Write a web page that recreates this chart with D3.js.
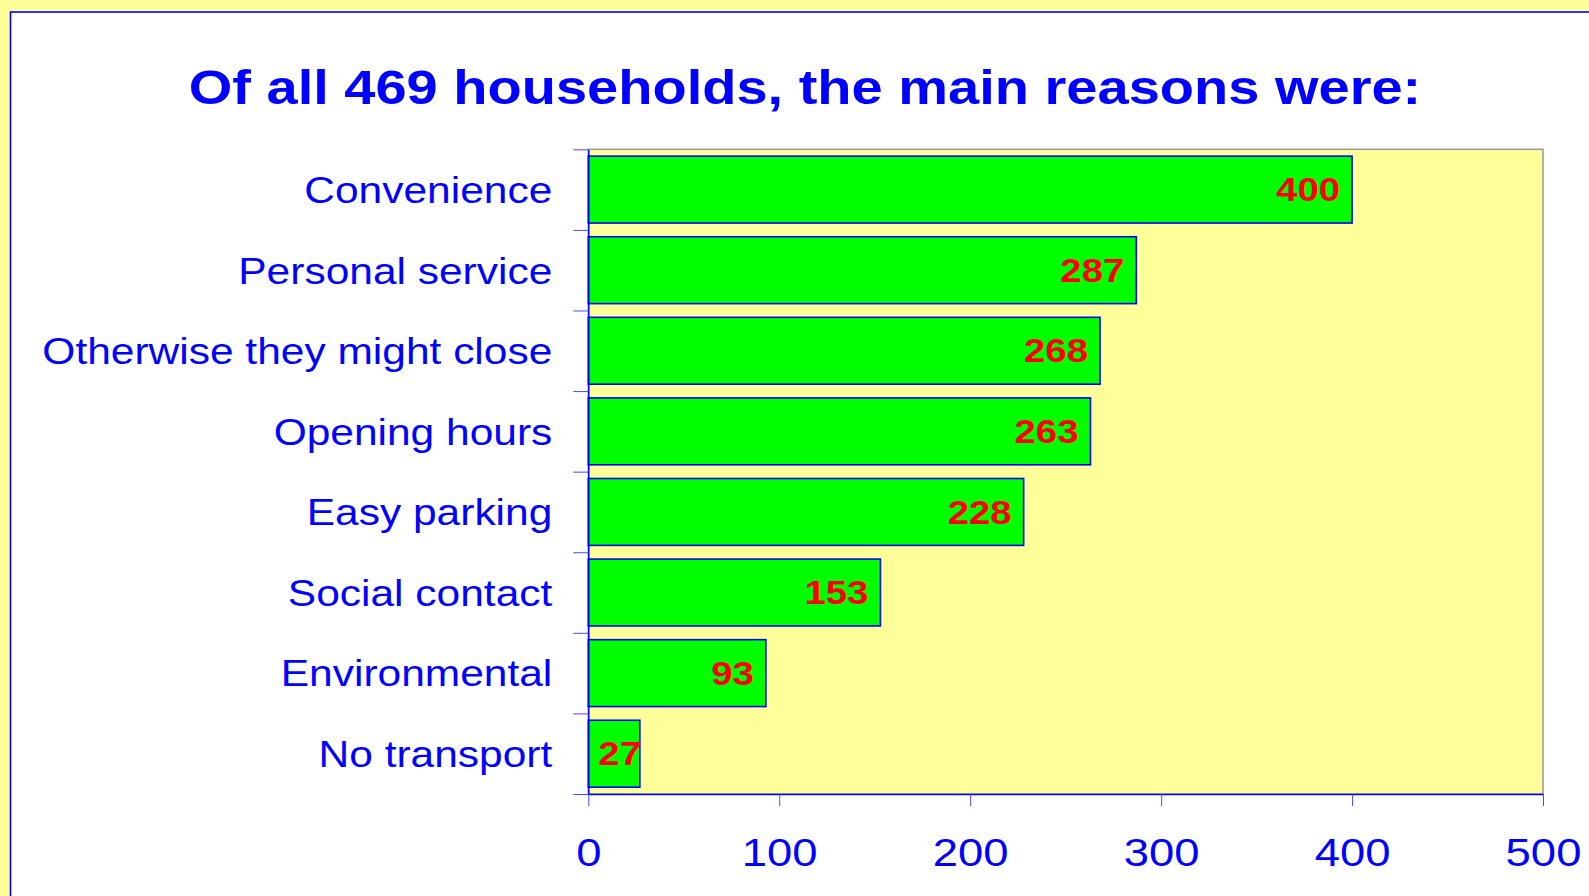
<!DOCTYPE html>
<html>
<head>
<meta charset="utf-8">
<script src="https://cdn.jsdelivr.net/npm/d3@7"></script>
<style>
  body { margin: 0; background: #ffff99; }
  svg { display: block; }
  text { font-family: Arial, "Liberation Sans", sans-serif; }
</style>
</head>
<body>
<div id="chart"></div>
<script>
// data
var reasons = ["Convenience", "Personal service", "Otherwise they might close", "Opening hours",
               "Easy parking", "Social contact", "Environmental", "No transport"];
var counts = [400, 287, 268, 263, 228, 153, 93, 27];
var xTicks = [0, 100, 200, 300, 400, 500];
var title = "Of all 469 households, the main reasons were:";

var W = 1589, H = 896;
var margin = {top: 149.3, right: 46, bottom: 102, left: 588.3};
var width = W - margin.left - margin.right,
    height = H - margin.top - margin.bottom;
var SX = 1.18; // text in the original is stretched sideways

// stretch a text element horizontally keeping its anchor
function stretch(sel, k) {
  sel.each(function() {
    var len = this.getComputedTextLength();
    d3.select(this).attr("textLength", len * k).attr("lengthAdjust", "spacingAndGlyphs");
  });
}

var svg = d3.select("#chart").append("svg")
    .attr("width", W)
    .attr("height", H);

// white slide panel
svg.append("rect")
  .attr("x", 10.5).attr("y", 12)
  .attr("width", W).attr("height", H)
  .attr("fill", "#ffffff")
  .attr("stroke", "#0000ff")
  .attr("stroke-width", 1.6);

svg.append("text")
  .attr("x", 805)
  .attr("y", 103.5)
  .attr("text-anchor", "middle")
  .attr("font-size", 49)
  .attr("font-weight", "bold")
  .attr("fill", "#0000ff")
  .text(title)
  .call(stretch, 1.143);

var g = svg.append("g")
  .attr("transform", "translate(" + margin.left + "," + margin.top + ")");

var x = d3.scaleLinear().domain([0, 500]).range([0, width]);
var y = d3.scaleBand().domain(reasons).range([0, height])
  .paddingInner(0.17).paddingOuter(0.085);
var yEdge = d3.scaleLinear().domain([0, reasons.length]).range([0, height]);

// plot area
g.append("rect")
  .attr("width", width).attr("height", height)
  .attr("fill", "#ffff99")
  .attr("stroke", "#999999")
  .attr("stroke-width", 1.5);

// bars
g.selectAll(".bar")
  .data(counts)
  .enter().append("rect")
  .attr("class", "bar")
  .attr("x", x(0))
  .attr("y", function(d, i) { return y(reasons[i]); })
  .attr("width", function(d) { return x(d) - x(0); })
  .attr("height", y.bandwidth())
  .attr("fill", "#00ff00")
  .attr("stroke", "#0000ff")
  .attr("stroke-width", 1.6);

// value labels, inside the bar end, pushed right for short bars
g.selectAll(".val")
  .data(counts)
  .enter().append("text")
  .attr("class", "val")
  .attr("y", function(d, i) { return y(reasons[i]) + y.bandwidth() / 2; })
  .attr("dy", "0.36em")
  .attr("text-anchor", "end")
  .attr("font-size", 32.5)
  .attr("font-weight", "bold")
  .attr("fill", "#ff0000")
  .text(function(d) { return d; })
  .call(stretch, SX)
  .attr("x", function(d) {
    var w = this.getComputedTextLength();
    return Math.max(x(d) - 12, x(0) + 10 + w);
  });

// x axis
var xAxis = g.append("g")
  .attr("transform", "translate(0," + height + ")")
  .call(d3.axisBottom(x).tickValues(xTicks).tickSize(12).tickSizeOuter(0).tickPadding(33));
xAxis.select(".domain").attr("stroke", "#0000ff").attr("stroke-width", 1.5);
xAxis.selectAll(".tick line").attr("stroke", "#4848ff");
xAxis.selectAll(".tick text")
  .attr("font-size", 38.5)
  .attr("fill", "#0000ff")
  .call(stretch, SX);

// y axis: ticks at category edges
var yTickAxis = g.append("g")
  .call(d3.axisLeft(yEdge).tickValues(d3.range(reasons.length + 1)).tickSize(15).tickSizeOuter(0).tickFormat(""));
yTickAxis.select(".domain").attr("stroke", "#0000ff").attr("stroke-width", 1.5);
yTickAxis.selectAll(".tick line").attr("stroke", "#4848ff");

// y axis category labels
var yLab = g.append("g")
  .call(d3.axisLeft(y).tickSize(0).tickPadding(36));
yLab.select(".domain").remove();
yLab.selectAll(".tick text")
  .attr("dy", "0.37em")
  .attr("font-size", 36)
  .attr("fill", "#0000ff")
  .call(stretch, SX);
</script>
</body>
</html>
